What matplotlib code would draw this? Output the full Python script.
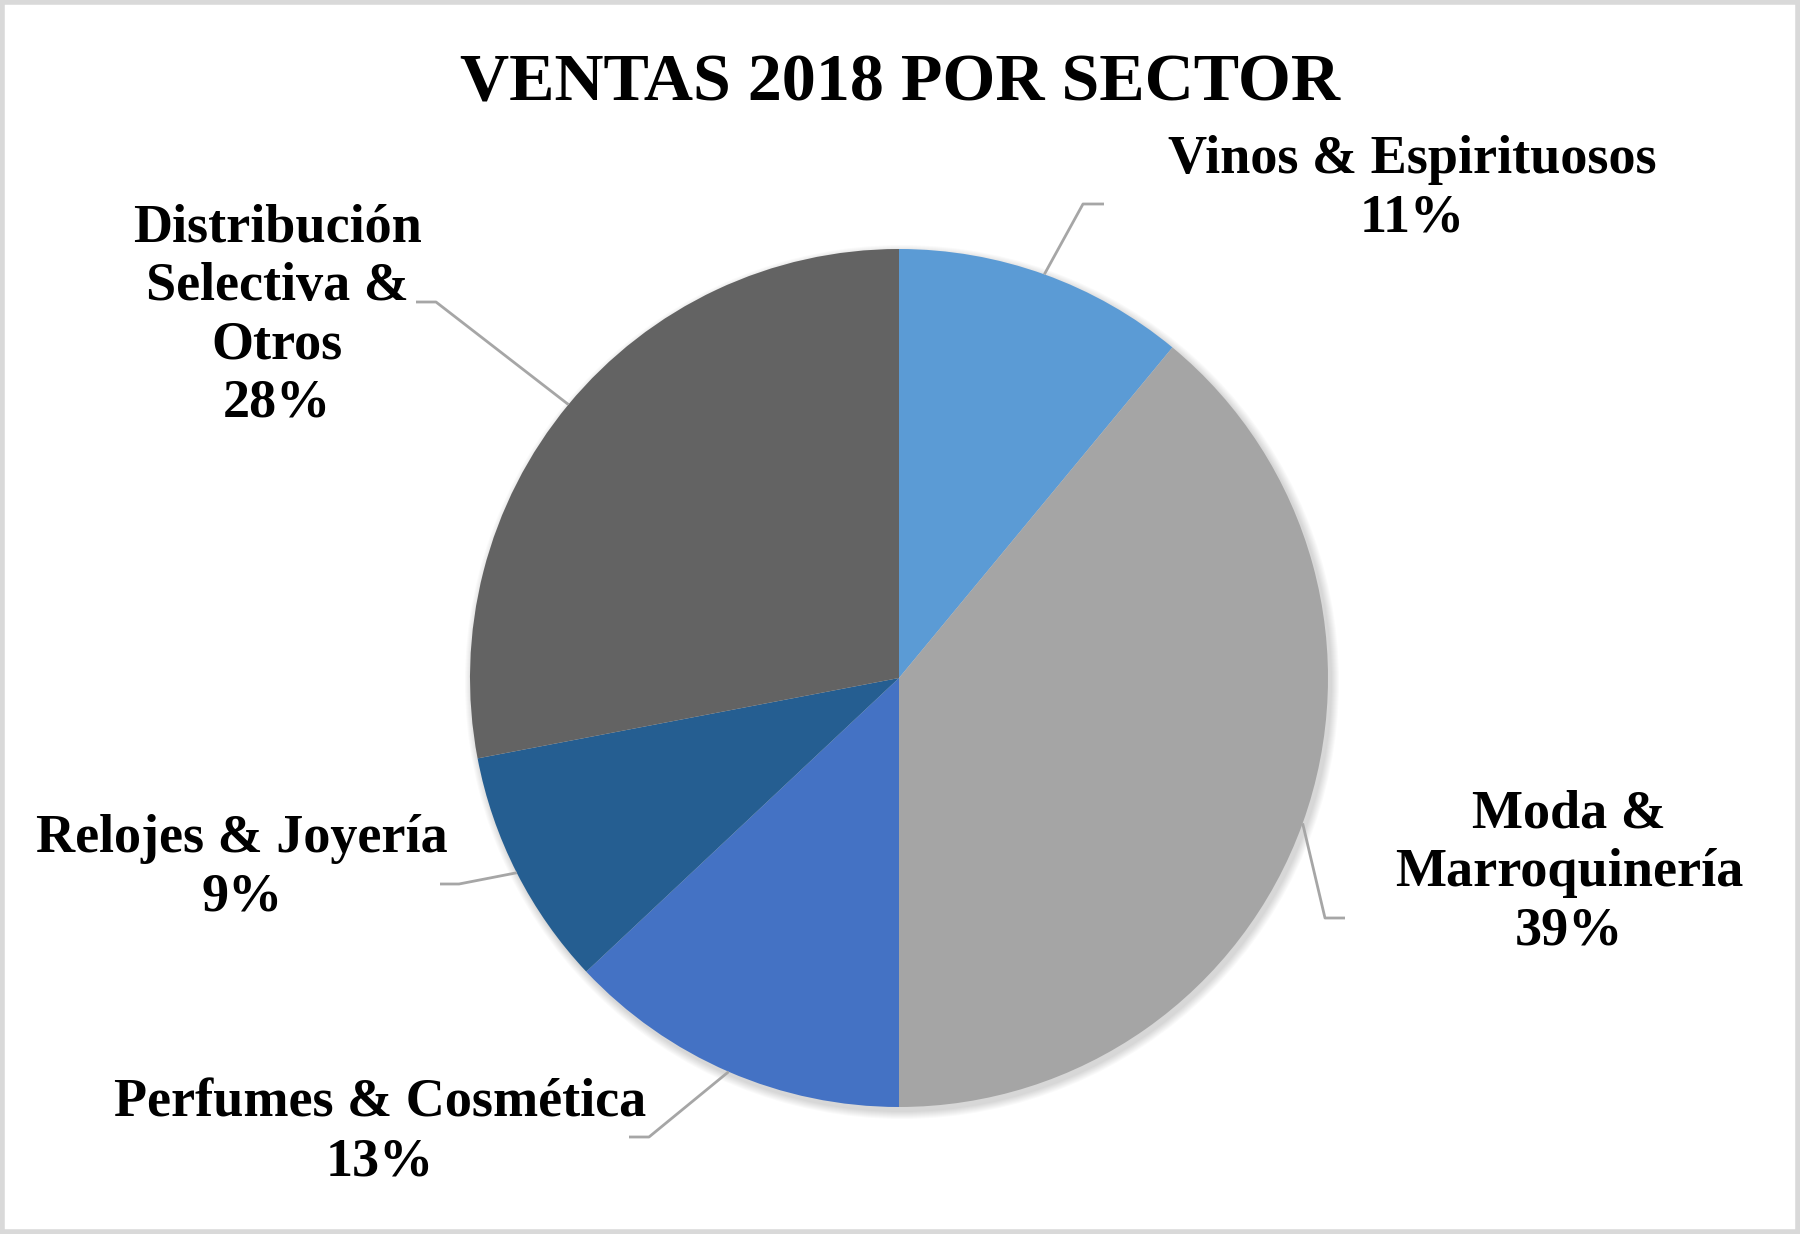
import numpy as np
import matplotlib
matplotlib.use("Agg")
import matplotlib.pyplot as plt
from matplotlib.patches import Rectangle, Circle

# data
sectores = ["Vinos & Espirituosos", "Moda &\nMarroquinería", "Perfumes & Cosmética",
            "Relojes & Joyería", "Distribución\nSelectiva &\nOtros"]
ventas = [11, 39, 13, 9, 28]
colores = ["#5B9BD5", "#A5A5A5", "#4472C4", "#255E91", "#636363"]

W, H = 1800, 1234
plt.rcParams['font.family'] = ['Liberation Serif', 'DejaVu Serif']

fig = plt.figure(figsize=(W / 100, H / 100), dpi=100)
ax = fig.add_axes([0, 0, 1, 1])

# light grey frame
ax.add_patch(Rectangle((2, 2), W - 4, H - 4, fill=False, edgecolor="#D9D9D9", lw=4))

cx, cy, r = 899, H - 678, 429

# soft shadow
for k in range(8):
    ax.add_patch(Circle((cx + 3, cy - 4), r + 8 - k, color="black", alpha=0.018, lw=0))

wedges, _ = ax.pie(ventas, colors=colores, startangle=90, counterclock=False,
                   center=(cx, cy), radius=r, frame=True,
                   wedgeprops=dict(linewidth=0))
ax.set_xlim(0, W)
ax.set_ylim(0, H)
ax.set_aspect('equal')
ax.axis('off')

ax.text(W / 2, H - 84, "VENTAS 2018 POR SECTOR", ha='center', va='center',
        fontsize=49, fontweight='bold')

# label layout: text centre, elbow start (x,y) of horizontal segment, elbow end
layout = [
    ((1412, 189), (1104, 204), (1083, 204)),
    ((1569, 873), (1345, 918), (1325, 918)),
    ((380, 1133), (629, 1137), (649, 1137)),
    ((242, 868), (440, 884), (459, 884)),
    ((277, 316), (416, 302), (436, 302)),
]

for w, nombre, v, (tpos, p0, p1) in zip(wedges, sectores, ventas, layout):
    ang = np.deg2rad((w.theta1 + w.theta2) / 2)
    ex, ey = cx + r * np.cos(ang), cy + r * np.sin(ang)
    ax.plot([p0[0], p1[0], ex], [H - p0[1], H - p1[1], ey], color="#A6A6A6",
            lw=2, solid_capstyle='butt', zorder=1)
    ax.text(tpos[0], H - tpos[1], f"{nombre}\n{v}%", ha='center', va='center',
            fontsize=39, fontweight='bold', linespacing=1.22)

fig.savefig("out.png", dpi=100)
